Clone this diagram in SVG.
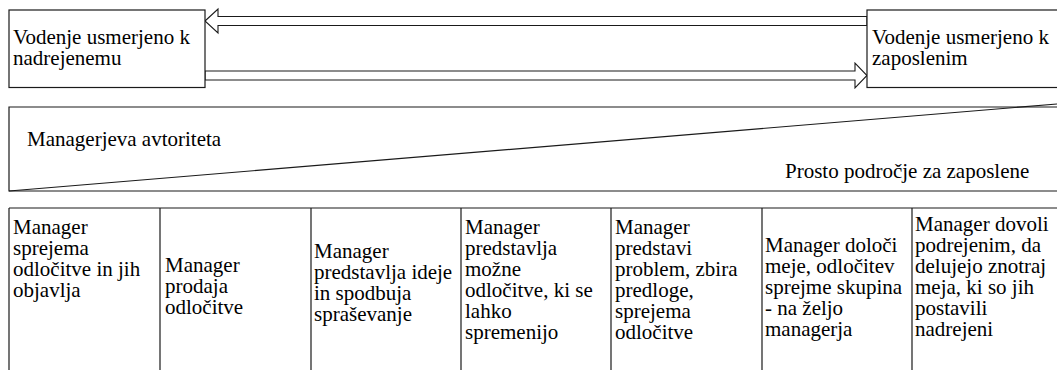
<svg xmlns="http://www.w3.org/2000/svg" width="1057" height="370" viewBox="0 0 1057 370">
  <style>
    .ln { fill: none; stroke: #1a1a1a; stroke-width: 1.2; }
    .box { fill: #ffffff; stroke: #1a1a1a; stroke-width: 1.2; }
    .arr { fill: #ffffff; stroke: #1a1a1a; stroke-width: 1.1; stroke-linejoin: miter; }
  </style>
  <rect width="1057" height="370" fill="#ffffff"/>

  <!-- hollow double-line arrows between the two leadership styles -->
  <g id="connectors">
    <polygon class="arr" points="205,21 218,9 218,16.5 867,16.5 867,25.5 218,25.5 218,33"/>
    <polygon class="arr" points="205,71 855,71 855,63 867,75.5 855,88 855,80 205,80"/>
  </g>

  <g id="node-nadrejenemu">
    <rect class="box" x="9" y="10" width="196" height="77.5"/>
    <text x="13" y="44" font-family="Liberation Serif, serif" font-size="21">Vodenje usmerjeno k</text>
    <text x="13" y="65" font-family="Liberation Serif, serif" font-size="21">nadrejenemu</text>
  </g>

  <g id="node-zaposlenim">
    <rect class="box" x="867" y="10" width="200" height="77.5"/>
    <text x="872" y="44" font-family="Liberation Serif, serif" font-size="21">Vodenje usmerjeno k</text>
    <text x="872" y="65" font-family="Liberation Serif, serif" font-size="21">zaposlenim</text>
  </g>

  <!-- authority band split by the diagonal -->
  <g id="authority-band">
    <path class="ln" d="M1057,107 H9 V191 H1057"/>
    <line class="ln" x1="9" y1="191" x2="1057" y2="104"/>
    <text x="27" y="146" font-family="Liberation Serif, serif" font-size="21">Managerjeva avtoriteta</text>
    <text x="785" y="178" font-family="Liberation Serif, serif" font-size="21">Prosto področje za zaposlene</text>
  </g>

  <!-- continuum of decision styles -->
  <g id="styles-grid">
    <line class="ln" x1="9" y1="208" x2="1057" y2="208"/>
    <line class="ln" x1="9" y1="208" x2="9" y2="370"/>
    <line class="ln" x1="160" y1="208" x2="160" y2="370"/>
    <line class="ln" x1="311" y1="208" x2="311" y2="370"/>
    <line class="ln" x1="461" y1="208" x2="461" y2="370"/>
    <line class="ln" x1="611" y1="208" x2="611" y2="370"/>
    <line class="ln" x1="762" y1="208" x2="762" y2="370"/>
    <line class="ln" x1="912" y1="208" x2="912" y2="370"/>
  </g>

  <g id="style-1">
    <text x="13" y="234" font-family="Liberation Serif, serif" font-size="21">Manager</text>
    <text x="13" y="255" font-family="Liberation Serif, serif" font-size="21">sprejema</text>
    <text x="13" y="276" font-family="Liberation Serif, serif" font-size="21">odločitve in jih</text>
    <text x="13" y="297" font-family="Liberation Serif, serif" font-size="21">objavlja</text>
  </g>
  <g id="style-2">
    <text x="165" y="272" font-family="Liberation Serif, serif" font-size="21">Manager</text>
    <text x="165" y="293" font-family="Liberation Serif, serif" font-size="21">prodaja</text>
    <text x="165" y="314" font-family="Liberation Serif, serif" font-size="21">odločitve</text>
  </g>
  <g id="style-3">
    <text x="314" y="258" font-family="Liberation Serif, serif" font-size="21">Manager</text>
    <text x="314" y="279" font-family="Liberation Serif, serif" font-size="21">predstavlja ideje</text>
    <text x="314" y="300" font-family="Liberation Serif, serif" font-size="21">in spodbuja</text>
    <text x="314" y="321" font-family="Liberation Serif, serif" font-size="21">spraševanje</text>
  </g>
  <g id="style-4">
    <text x="465" y="234" font-family="Liberation Serif, serif" font-size="21">Manager</text>
    <text x="465" y="255" font-family="Liberation Serif, serif" font-size="21">predstavlja</text>
    <text x="465" y="276" font-family="Liberation Serif, serif" font-size="21">možne</text>
    <text x="465" y="297" font-family="Liberation Serif, serif" font-size="21">odločitve, ki se</text>
    <text x="465" y="318" font-family="Liberation Serif, serif" font-size="21">lahko</text>
    <text x="465" y="339" font-family="Liberation Serif, serif" font-size="21">spremenijo</text>
  </g>
  <g id="style-5">
    <text x="615" y="234" font-family="Liberation Serif, serif" font-size="21">Manager</text>
    <text x="615" y="255" font-family="Liberation Serif, serif" font-size="21">predstavi</text>
    <text x="615" y="276" font-family="Liberation Serif, serif" font-size="21">problem, zbira</text>
    <text x="615" y="297" font-family="Liberation Serif, serif" font-size="21">predloge,</text>
    <text x="615" y="318" font-family="Liberation Serif, serif" font-size="21">sprejema</text>
    <text x="615" y="339" font-family="Liberation Serif, serif" font-size="21">odločitve</text>
  </g>
  <g id="style-6">
    <text x="765" y="252" font-family="Liberation Serif, serif" font-size="21">Manager določi</text>
    <text x="765" y="273" font-family="Liberation Serif, serif" font-size="21">meje, odločitev</text>
    <text x="765" y="294" font-family="Liberation Serif, serif" font-size="21">sprejme skupina</text>
    <text x="765" y="315" font-family="Liberation Serif, serif" font-size="21">- na željo</text>
    <text x="765" y="336" font-family="Liberation Serif, serif" font-size="21">managerja</text>
  </g>
  <g id="style-7">
    <text x="915" y="231" font-family="Liberation Serif, serif" font-size="21">Manager dovoli</text>
    <text x="915" y="252" font-family="Liberation Serif, serif" font-size="21">podrejenim, da</text>
    <text x="915" y="273" font-family="Liberation Serif, serif" font-size="21">delujejo znotraj</text>
    <text x="915" y="294" font-family="Liberation Serif, serif" font-size="21">meja, ki so jih</text>
    <text x="915" y="315" font-family="Liberation Serif, serif" font-size="21">postavili</text>
    <text x="915" y="336" font-family="Liberation Serif, serif" font-size="21">nadrejeni</text>
  </g>
</svg>
